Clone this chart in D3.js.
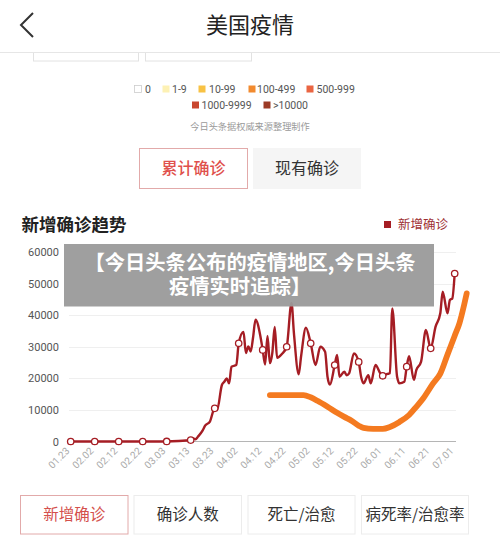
<!DOCTYPE html>
<html><head><meta charset="utf-8">
<script src="https://cdn.jsdelivr.net/npm/d3@7"></script>
<style>
html,body{margin:0;padding:0;background:#fff;}
svg{display:block;}
text{font-family:"Noto Sans CJK SC","Noto Sans",sans-serif;}
.num{font-family:Roboto,"Noto Sans",sans-serif;}
</style></head>
<body>
<script>
// ---- data ----
const tickLabels = ["01.23","02.02","02.12","02.22","03.03","03.13","03.23","04.02","04.12","04.22","05.02","05.12","05.22","06.01","06.11","06.21","07.01"];
const yTicks = [0,10000,20000,30000,40000,50000,60000];
const newDates = ["01-23","02-02","02-12","02-22","03-03","03-08","03-11","03-13","03-14","03-15","03-16","03-18","03-19","03-21","03-23","03-24","03-26","03-27","03-28","03-29","03-30","04-01","04-02","04-04","04-05","04-06","04-07","04-08","04-09","04-11","04-12","04-13","04-14","04-15","04-16","04-17","04-18","04-20","04-22","04-24","04-25","04-27","04-28","04-30","05-02","05-04","05-06","05-08","05-09","05-10","05-12","05-13","05-14","05-16","05-17","05-18","05-20","05-22","05-23","05-24","05-26","05-27","05-29","05-31","06-01","06-03","06-04","06-05","06-07","06-08","06-10","06-11","06-12","06-14","06-15","06-17","06-19","06-21","06-23","06-25","06-26","06-28","06-29","06-30","07-01"];
const newValues = [0,0,0,0,20,150,300,450,1000,700,1500,3500,5000,6300,10500,10000,17900,18900,20000,18400,23700,24200,31100,34700,28000,30100,28500,33000,38600,33500,29000,24400,33400,24800,28000,36300,26500,27700,30000,43900,34400,21300,27000,36000,31100,24200,30000,28400,20500,18000,24200,27400,20500,22100,21000,21600,27900,25200,20500,18400,21000,18400,24200,21600,20800,21400,21600,42100,20500,18400,18900,23700,27000,19500,22600,25300,35300,29500,36300,40600,47400,40600,44800,45300,53200];
const trendDates = ["04-15","04-29","05-02","05-05","05-09","05-13","05-16","05-19","05-22","05-24","05-28","06-01","06-04","06-08","06-12","06-15","06-18","06-22","06-25","06-28","07-01","07-03","07-05","07-06"];
const trendValues = [14700,14700,14000,12800,11000,9100,7800,6600,5000,4300,4000,4000,4600,6200,8400,11000,13800,18400,21500,27500,33500,37500,43500,46900];
const legendItems = ["0","1-9","10-99","100-499","500-999","1000-9999",">10000"];
const legendColors = ["#ffffff","#fdf1b4","#f8c244","#f28a2e","#ea6542","#c9472f","#9c3b26"];
const bottomTabs = ["新增确诊","确诊人数","死亡/治愈","病死率/治愈率"];

const W=500,H=552;
const parse = s => d3.timeParse("%Y-%m-%d")("2020-"+s);
const svg = d3.select("body").append("svg").attr("width",W).attr("height",H);
svg.append("rect").attr("width",W).attr("height",H).attr("fill","#fff");

// partial boxes under header
svg.append("rect").attr("x",33.5).attr("y",45).attr("width",105).attr("height",16).attr("fill","#fff").attr("stroke","#e2e2e2");
svg.append("rect").attr("x",145.5).attr("y",45).attr("width",106).attr("height",16).attr("fill","#fff").attr("stroke","#e2e2e2");
// header
svg.append("rect").attr("x",0).attr("y",0).attr("width",W).attr("height",52).attr("fill","#fff");
svg.append("line").attr("x1",0).attr("x2",W).attr("y1",52.5).attr("y2",52.5).attr("stroke","#e6e6e6");
svg.append("path").attr("d","M33,13 L21,25 L33,37").attr("fill","none").attr("stroke","#333").attr("stroke-width",2);
svg.append("text").attr("x",250).attr("y",33).attr("text-anchor","middle").attr("font-size",22).attr("fill","#222").text("美国疫情");

// map legend
const legPos = [[134,145],[162,172],[198,209],[248,257],[306,316.5],[191.5,201.5],[263,273]];
legendItems.forEach((t,i)=>{
  const row = i<5?0:1, yy = row===0?85:101;
  svg.append("rect").attr("x",legPos[i][0]+0.5).attr("y",yy+0.5).attr("width",7).attr("height",7)
    .attr("fill",legendColors[i]).attr("stroke",i===0?"#ccc":"none").attr("stroke-width",0.8);
  svg.append("text").attr("class","num").attr("x",legPos[i][1]).attr("y",yy+8).attr("font-size",10.5).attr("fill","#555").text(t);
});
svg.append("text").attr("x",250).attr("y",129.5).attr("text-anchor","middle").attr("font-size",9.2).attr("fill","#9a9a9a").text("今日头条据权威来源整理制作");

// top tabs
svg.append("rect").attr("x",139.5).attr("y",148.5).attr("width",108).attr("height",40).attr("fill","#fff").attr("stroke","#e2aaaa");
svg.append("text").attr("x",193.5).attr("y",174).attr("text-anchor","middle").attr("font-size",16).attr("font-weight",500).attr("fill","#e0504c").text("累计确诊");
svg.append("rect").attr("x",253).attr("y",148).attr("width",108).attr("height",41).attr("fill","#f5f5f5");
svg.append("text").attr("x",307).attr("y",174).attr("text-anchor","middle").attr("font-size",16).attr("fill","#333").text("现有确诊");

// chart title + legend
svg.append("text").attr("x",21.5).attr("y",231).attr("font-size",17.5).attr("font-weight",700).attr("fill","#222").text("新增确诊趋势");
svg.append("rect").attr("x",384).attr("y",221).attr("width",7).attr("height",7).attr("fill","#a51d24");
svg.append("text").attr("x",398).attr("y",229).attr("font-size",12.5).attr("fill","#9e3033").text("新增确诊");

// scales
const x = d3.scaleTime().domain([parse("01-23"),parse("07-01")]).range([70.7,454.7]);
const y = d3.scaleLinear().domain([0,60000]).range([441.5,252]);

// grid
svg.append("g").selectAll("line").data(yTicks.slice(1)).join("line")
  .attr("x1",69).attr("x2",456).attr("y1",d=>Math.round(y(d))+0.5).attr("y2",d=>Math.round(y(d))+0.5)
  .attr("stroke","#efefef");
// y axis
const yAxis = svg.append("g").attr("transform","translate(62,0)").call(d3.axisLeft(y).tickValues(yTicks).tickSize(0).tickPadding(3).tickFormat(d3.format("d")));
yAxis.select(".domain").remove();
yAxis.selectAll("text").attr("class","num").attr("font-size",11).attr("fill","#555").attr("font-family","Roboto,sans-serif");
// x axis
const tickDates = tickLabels.map(s=>parse(s.replace(".","-")));
svg.append("line").attr("x1",69).attr("x2",456).attr("y1",441.5).attr("y2",441.5).attr("stroke","#b5b5b5");
const xAxis = svg.append("g").attr("transform","translate(0,441.5)").call(d3.axisBottom(x).tickValues(tickDates).tickSize(0).tickFormat((d,i)=>tickLabels[i]));
xAxis.select(".domain").remove();
xAxis.selectAll("text").attr("class","num").attr("font-size",10).attr("fill","#aaa").attr("font-family","Roboto,sans-serif")
  .attr("text-anchor","end").attr("dy",0).attr("y",0)
  .attr("transform","translate(-1,10) rotate(-45)");

// lines
const redData = newDates.map((d,i)=>({date:parse(d),v:newValues[i]}));
const orData = trendDates.map((d,i)=>({date:parse(d),v:trendValues[i]}));
const line = d3.line().x(d=>x(d.date)).y(d=>y(d.v)).curve(d3.curveMonotoneX);

svg.append("path").datum(orData).attr("d",line).attr("fill","none").attr("stroke","#f47a20").attr("stroke-width",5.8).attr("stroke-linecap","round").attr("stroke-linejoin","round");
svg.append("path").datum(redData).attr("d",line).attr("fill","none").attr("stroke","#a51d24").attr("stroke-width",2.4).attr("stroke-linejoin","round");
const tickKeys = new Set(tickLabels.map(s=>s.replace(".","-")));
svg.append("g").selectAll("circle").data(redData.filter((d,i)=>tickKeys.has(newDates[i]))).join("circle")
  .attr("cx",d=>x(d.date)).attr("cy",d=>y(d.v)).attr("r",3.2).attr("fill","#fff").attr("stroke","#a51d24").attr("stroke-width",1.3);

// banner overlay
svg.append("rect").attr("x",64).attr("y",244).attr("width",370).attr("height",62.5).attr("fill","#9a9a9a").attr("opacity",0.95);
const bt = svg.append("text").attr("text-anchor","middle").attr("font-size",20.3).attr("font-weight",700).attr("fill","#fff");
bt.append("tspan").attr("x",250).attr("y",269.5).text("【今日头条公布的疫情地区,今日头条");
bt.append("tspan").attr("x",240).attr("y",294).text("疫情实时追踪】");

// bottom tabs
const tabX = [20,133.5,247.5,361];
const tabW = [107.5,107.5,107,107];
bottomTabs.forEach((t,i)=>{
  svg.append("rect").attr("x",tabX[i]+0.5).attr("y",495.5).attr("width",tabW[i]).attr("height",38.5)
    .attr("fill","#fff").attr("stroke",i===0?"#e2aaaa":"#ececec");
  svg.append("text").attr("x",tabX[i]+tabW[i]/2+0.5).attr("y",520).attr("text-anchor","middle").attr("font-size",15.5)
    .attr("fill",i===0?"#d4504c":"#333").text(t);
});
</script>
</body></html>
